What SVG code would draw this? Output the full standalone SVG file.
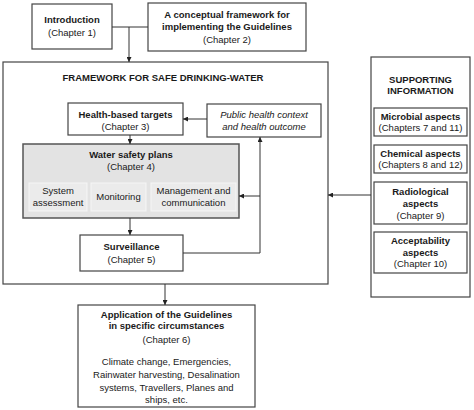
<svg xmlns="http://www.w3.org/2000/svg" width="474" height="410" viewBox="0 0 474 410">
<style>
text{font-family:"Liberation Sans",Arial,sans-serif;font-size:9.5px;fill:#1a1a1a;text-anchor:middle}
.b{font-weight:bold}
.i{font-style:italic}
.box{fill:#fff;stroke:#444;stroke-width:1.2}
.wsp{fill:#e3e3e3;stroke:#555;stroke-width:1.5}
.sub{fill:#ebebeb;stroke:#f6f6f6;stroke-width:1}
.ln{fill:none;stroke:#333;stroke-width:1}
</style>
<defs>
<marker id="ah" viewBox="0 0 8 8" refX="8" refY="4" markerWidth="5" markerHeight="5" orient="auto" markerUnits="userSpaceOnUse">
<path d="M0,0 L8,4 L0,8 z" fill="#222"/>
</marker>
</defs>
<g id="introduction"><rect class="box" x="32" y="4" width="80" height="45"/><text class="b" x="72" y="23">Introduction</text><text x="72" y="36">(Chapter 1)</text></g>
<g id="conceptual"><rect class="box" x="148" y="3" width="158" height="48"/><text class="b" x="227" y="18">A conceptual framework for</text><text class="b" x="227" y="30">implementing the Guidelines</text><text x="227" y="43">(Chapter 2)</text></g>
<g id="framework"><rect class="box" x="3" y="62" width="325" height="222"/><text class="b" x="163" y="81">FRAMEWORK FOR SAFE DRINKING-WATER</text></g>
<g id="hbt"><rect class="box" x="68" y="103" width="115" height="32"/><text class="b" x="125.5" y="118">Health-based targets</text><text x="125.5" y="130">(Chapter 3)</text></g>
<g id="public"><rect class="box" x="207" y="104" width="114" height="33"/><text class="i" x="264" y="118">Public health context</text><text class="i" x="264" y="130">and health outcome</text></g>
<g id="wsp"><rect class="wsp" x="23" y="144" width="216" height="74"/><text class="b" x="131" y="158">Water safety plans</text><text x="131" y="170">(Chapter 4)</text>
<rect class="sub" x="29" y="183" width="58" height="28"/><text x="58" y="194">System</text><text x="58" y="206">assessment</text>
<rect class="sub" x="91" y="183" width="55" height="28"/><text x="118.5" y="200">Monitoring</text>
<rect class="sub" x="151" y="183" width="85" height="28"/><text x="193.5" y="194">Management and</text><text x="193.5" y="206">communication</text></g>
<g id="surveillance"><rect class="box" x="80" y="235" width="103" height="36"/><text class="b" x="131.5" y="250">Surveillance</text><text x="131.5" y="263">(Chapter 5)</text></g>
<g id="supporting"><rect class="box" x="371" y="57" width="99" height="240"/><text class="b" x="420.5" y="83">SUPPORTING</text><text class="b" x="420.5" y="94">INFORMATION</text>
<rect class="box" x="374" y="108" width="93" height="28"/><text class="b" x="420.5" y="120">Microbial aspects</text><text x="420.5" y="131">(Chapters 7 and 11)</text>
<rect class="box" x="374" y="145" width="93" height="28"/><text class="b" x="420.5" y="157">Chemical aspects</text><text x="420.5" y="168">(Chapters 8 and 12)</text>
<rect class="box" x="374" y="182" width="93" height="42"/><text class="b" x="420.5" y="195">Radiological</text><text class="b" x="420.5" y="207">aspects</text><text x="420.5" y="219">(Chapter 9)</text>
<rect class="box" x="374" y="232" width="93" height="41"/><text class="b" x="420.5" y="244">Acceptability</text><text class="b" x="420.5" y="256">aspects</text><text x="420.5" y="267">(Chapter 10)</text></g>
<g id="application"><rect class="box" x="78" y="305" width="177" height="102"/><text class="b" x="166.5" y="318">Application of the Guidelines</text><text class="b" x="166.5" y="329">in specific circumstances</text><text x="166.5" y="343">(Chapter 6)</text>
<text x="166.5" y="365">Climate change, Emergencies,</text><text x="166.5" y="378">Rainwater harvesting, Desalination</text><text x="166.5" y="391">systems, Travellers, Planes and</text><text x="166.5" y="403">ships, etc.</text></g>
<g id="connectors">
<path class="ln" d="M112,27 H148"/>
<path class="ln" d="M129,27 V62" marker-end="url(#ah)"/>
<path class="ln" d="M207,119 H183" marker-end="url(#ah)"/>
<path class="ln" d="M130,135 V144" marker-end="url(#ah)"/>
<path class="ln" d="M130,218 V235" marker-end="url(#ah)"/>
<path class="ln" d="M183,253 H260 V137" marker-end="url(#ah)"/>
<path class="ln" d="M260,196 H239" marker-end="url(#ah)"/>
<path class="ln" d="M371,195 H328" marker-end="url(#ah)"/>
<path class="ln" d="M165,284 V305" marker-end="url(#ah)"/>
</g>
</svg>
